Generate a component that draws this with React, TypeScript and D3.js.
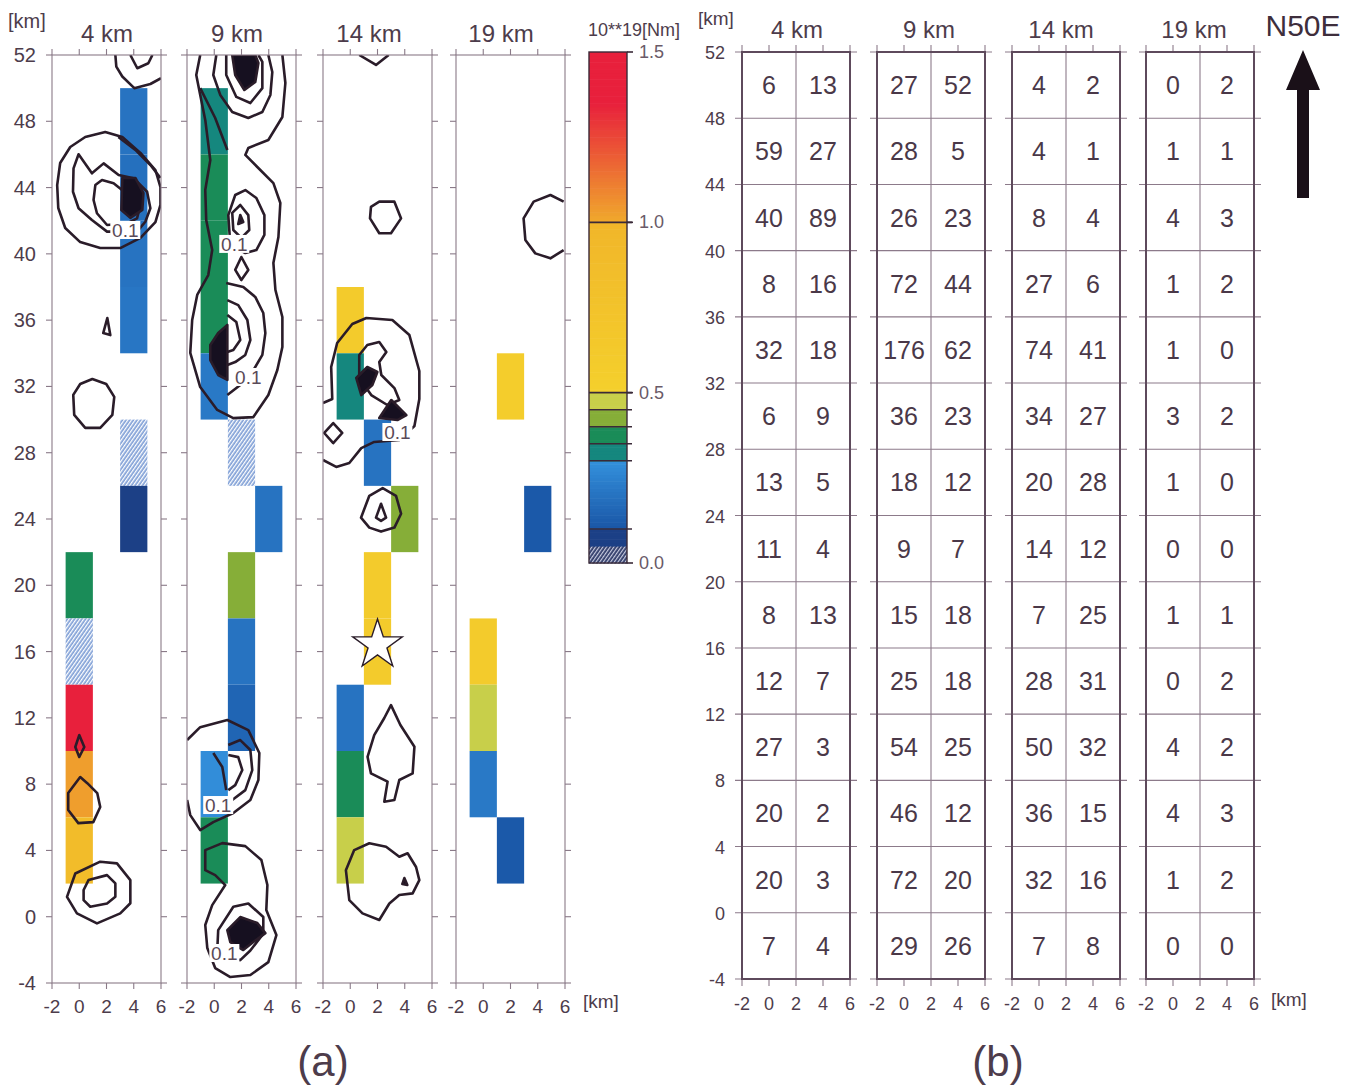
import React, { useEffect, useRef } from "react";
import * as d3 from "d3";

// ---- shared ticks / labels ----
const depthLabels = ["4 km", "9 km", "14 km", "19 km"];
const yTickValues = [52, 48, 44, 40, 36, 32, 28, 24, 20, 16, 12, 8, 4, 0, -4];
const xTickValues = [-2, 0, 2, 4, 6];
const colorTicks = [0, 0.5, 1.0, 1.5];
const colorBreaks = [0.1, 0.3, 0.35, 0.4, 0.45, 0.5, 1.0];

// ---- (a) moment release per 2 x 4 km cell: [left km, top km, 10**19 Nm] ----
const cells4 = [
  [3, 50, 0.2], [3, 46, 0.19], [3, 42, 0.2], [3, 38, 0.21], [3, 30, 0.03], [3, 26, 0.08],
  [-1, 22, 0.37], [-1, 18, 0.03], [-1, 14, 1.45], [-1, 10, 1.03], [-1, 6, 0.88],
];
const cells9 = [
  [-1, 50, 0.33], [-1, 46, 0.36], [-1, 42, 0.37], [-1, 38, 0.37], [-1, 34, 0.22],
  [1, 30, 0.03], [3, 26, 0.2], [1, 22, 0.42], [1, 18, 0.2], [1, 14, 0.15],
  [-1, 10, 0.29], [-1, 6, 0.37],
];
const cells14 = [
  [-1, 38, 0.6], [-1, 34, 0.33], [1, 30, 0.2], [3, 26, 0.42], [1, 22, 0.6], [1, 18, 0.6],
  [-1, 14, 0.2], [-1, 10, 0.39], [-1, 6, 0.47],
];
const cells19 = [
  [1, 34, 0.55], [3, 26, 0.11], [-1, 18, 0.6], [-1, 14, 0.47], [-1, 10, 0.22], [1, 6, 0.11],
];

// ---- (a) contour lines, km coordinates ----
const c4Top = [[2.65, 52], [2.72, 51.3], [3.16, 50.7], [4.04, 50.0], [5.22, 50.25], [6.0, 50.6]];
const c4TopIn = [[3.75, 52], [4.26, 51.2], [5.07, 51.5], [5.37, 52]];
const c4Outer = [[-1.62, 44.15], [-1.4, 45.48], [-0.66, 46.45], [0.44, 47.05], [1.91, 47.35], [3.16, 47.05], [4.49, 46.09], [5.59, 45.06], [5.96, 44.03], [5.96, 42.95], [5.59, 41.92], [4.49, 40.96], [3.01, 40.35], [1.54, 40.35], [0.07, 40.71], [-1.03, 41.56], [-1.54, 42.77]];
const c4Mid = [[2.04, 41.34], [0.93, 42.04], [-0.05, 42.75], [-0.46, 43.75], [-0.42, 45.16], [-0.05, 46.01], [0.93, 44.86], [1.79, 45.46], [2.89, 44.76], [3.99, 44.56], [4.98, 43.75], [5.22, 42.75], [4.85, 41.94], [4.24, 41.34]];
const c4In = [[2.04, 41.74], [1.3, 42.45], [1.05, 43.25], [1.18, 44.15], [1.67, 44.46], [2.52, 44.26], [3.14, 43.85], [3.99, 43.65], [4.49, 42.95], [4.24, 42.14], [3.51, 41.84]];
const c4Line = [[2.87, 47.05], [4.12, 46.27], [5.22, 45.36], [5.96, 44.58]];
const c4Blob = [[3.16, 44.58], [4.12, 44.58], [4.71, 43.67], [4.63, 42.65], [3.75, 42.17], [3.09, 42.65]];
const c4Tri = [[2.06, 36.13], [1.76, 35.22], [2.28, 35.1]];
const c4Circle = [[0.96, 32.45], [1.98, 32.15], [2.57, 31.37], [2.43, 30.28], [1.54, 29.5], [0.44, 29.5], [-0.37, 30.28], [-0.44, 31.49], [0.07, 32.15]];
const c4Drop = [[0, 10.96], [-0.29, 10.24], [0, 9.64], [0.37, 10.24]];
const c4Oval = [[0.07, 8.43], [-0.81, 7.46], [-0.81, 6.44], [-0.07, 5.65], [1.03, 5.71], [1.54, 6.62], [1.32, 7.46], [0.59, 8.06]];
const c4BotOut = [[-0.9, 1.2], [-0.29, 2.61], [1.54, 3.32], [2.77, 3.22], [3.75, 2.21], [3.75, 0.81], [3.01, 0.2], [1.3, -0.4], [-0.17, 0.2]];
const c4BotIn = [[0.32, 1.61], [0.68, 2.21], [2.04, 2.51], [2.65, 2.01], [2.65, 1.2], [2.04, 0.8], [0.81, 0.6], [0.32, 1.0]];

const c9A = [[5.0, 52], [5.22, 50.31], [5.0, 48.26], [3.97, 46.87], [2.5, 46.39], [2.28, 45.97], [3.16, 45.24], [4.34, 44.27], [4.85, 43.07], [4.71, 41.02], [4.34, 39.45], [4.49, 37.82], [5.0, 36.19], [5.0, 34.38], [4.63, 32.99], [3.97, 31.48], [2.87, 30.15], [1.4, 30.09], [0.22, 30.58], [-1.03, 31.96], [-1.76, 34.02], [-1.62, 36.01], [-1.25, 37.52], [-0.44, 38.72], [-0.15, 40.23], [-0.59, 42.04], [-0.66, 43.85], [-0.29, 45.66], [-0.66, 48.08], [-1.03, 49.59], [-1.32, 50.79], [-1.03, 52]];
const c9B = [[0.15, 52], [-0.07, 50.79], [0.44, 49.59], [1.32, 48.56], [2.5, 48.2], [3.53, 48.56], [4.12, 49.59], [4.26, 50.97], [3.97, 52]];
const c9C = [[0.88, 52], [0.88, 50.79], [1.62, 49.47], [2.65, 49.1], [3.53, 50.0], [3.53, 51.58], [3.24, 52]];
const c9TopBlob = [[1.32, 52], [1.54, 50.79], [2.21, 49.89], [3.01, 50.37], [3.24, 51.52], [3.01, 52]];
const c9Diag = [[-1.03, 50.0], [0.07, 48.2], [0.96, 46.27]];
const c9E1 = [[1.18, 40.53], [1.03, 42.34], [1.54, 43.55], [2.28, 43.85], [3.09, 43.37], [3.68, 42.34], [3.68, 41.14], [3.09, 40.23], [2.28, 40.05]];
const c9E2 = [[1.4, 41.44], [1.32, 42.47], [1.91, 42.95], [2.5, 42.34], [2.57, 41.44], [1.99, 40.96]];
const c9E3 = [[1.91, 42.34], [2.13, 41.92], [1.76, 41.8]];
const c9Diamond = [[1.99, 39.81], [2.5, 39.03], [1.99, 38.42], [1.54, 39.03]];
const c9U1 = [[0.88, 38.24], [2.13, 38.0], [3.01, 37.4], [3.6, 36.43], [3.75, 35.22], [3.53, 33.9], [2.79, 32.87], [1.91, 32.09], [0.96, 31.48]];
const c9U2 = [[0.96, 37.21], [1.76, 36.91], [2.43, 36.01], [2.65, 34.8], [2.28, 33.9], [1.54, 33.47], [0.96, 33.29]];
const c9U3 = [[0.96, 36.31], [1.62, 35.89], [1.91, 34.8], [1.4, 34.2], [0.96, 34.08]];
const c9MidBlob = [[0.96, 35.71], [0.96, 32.39], [0.29, 32.69], [-0.29, 33.59], [-0.29, 34.5], [0.29, 35.22]];
const c9Upper = [[-1.99, 10.66], [-1.03, 11.44], [0.96, 11.87], [2.5, 11.26], [3.31, 9.88], [3.24, 8.25], [2.65, 7.04], [1.4, 6.26], [-0.07, 5.71], [-1.03, 5.23], [-1.76, 6.13], [-1.99, 7.04]];
const c9L1 = [[1.03, 10.36], [1.91, 10.66], [2.65, 10.06], [2.79, 8.85], [2.28, 7.64], [1.32, 7.04]];
const c9L2 = [[1.03, 9.76], [1.76, 9.63], [2.06, 8.85], [1.54, 7.94], [1.03, 7.64]];
const c9L3 = [[-0.07, 9.88], [0.59, 9.03], [0.88, 7.64]];
const c9Lower = [[-0.66, 4.02], [0.59, 4.44], [2.28, 4.26], [3.46, 3.42], [3.9, 1.91], [3.82, 0.4], [4.56, -1.11], [3.97, -2.74], [2.65, -3.52], [1.18, -3.64], [0.07, -3.1], [-0.51, -1.89], [-0.66, -0.5], [-0.15, 0.7], [0.81, 1.91], [0.07, 2.51], [-0.66, 2.81]];
const c9LowerIn = [[0.29, -0.81], [1.4, 0.6], [2.5, 0.8], [3.6, -0.02], [3.6, -1.02], [2.65, -2.04], [1.91, -2.62], [0.96, -2.44], [0.22, -2.04]];
const c9LowBlob = [[0.96, -0.81], [1.91, -0.02], [3.16, -0.38], [3.75, -0.99], [2.87, -1.53], [2.13, -2.01], [1.18, -1.53]];

const c14Top = [[0.66, 52], [1.89, 51.4], [2.82, 52]];
const c14Hex = [[1.52, 42.84], [2.13, 43.15], [3.24, 43.15], [3.73, 42.14], [2.99, 41.24], [2.13, 41.24], [1.45, 42.14]];
const c14Outer = [[-2, 31.0], [-1.32, 31.24], [-1.4, 33.17], [-0.96, 34.62], [0.15, 35.77], [1.18, 36.13], [3.09, 36.01], [4.34, 35.1], [5.07, 32.93], [5.07, 31.24], [4.71, 29.61], [3.6, 28.77], [1.76, 28.65], [0.81, 28.28], [-0.07, 27.38], [-1.03, 27.14], [-2, 27.56]];
const c14Inner = [[0.66, 33.9], [1.25, 34.5], [2.13, 34.68], [2.65, 34.08], [2.13, 33.47], [2.28, 32.69], [3.24, 31.9], [3.6, 31.18], [2.72, 30.88], [1.54, 31.48], [0.66, 32.51]];
const c14Blob1 = [[0.44, 32.51], [1.25, 33.17], [1.99, 32.87], [1.62, 32.09], [0.81, 31.48]];
const c14Blob2 = [[2.13, 30.09], [3.01, 31.18], [4.12, 30.27], [3.46, 29.97]];
const c14Diamond = [[-1.25, 29.79], [-0.59, 29.19], [-1.25, 28.58], [-1.91, 29.19]];
const c14Ring = [[0.79, 24.08], [1.4, 25.4], [2.38, 25.87], [3.36, 25.4], [3.73, 24.32], [3.24, 23.48], [2.26, 23.24], [1.4, 23.48]];
const c14RingIn = [[2.26, 24.92], [2.63, 24.08], [2.26, 23.89], [1.89, 24.08]];
const c14Pear = [[2.99, 12.77], [3.68, 11.57], [4.71, 10.26], [4.58, 8.65], [3.6, 8.25], [3.24, 7.04], [2.5, 6.94], [2.74, 8.15], [1.52, 8.65], [1.27, 9.65], [1.76, 10.96], [2.5, 11.99]];
const c14Bottom = [[-0.32, 2.81], [0.29, 4.02], [1.4, 4.43], [2.63, 4.22], [3.6, 3.62], [4.21, 3.83], [4.83, 3.0], [5.07, 2.21], [4.58, 1.41], [3.6, 1.31], [2.87, 0.8], [2.13, -0.2], [0.9, 0.2], [-0.07, 1.0]];
const c14Dot = [[3.97, 2.33], [4.19, 1.91], [3.82, 1.97]];

const c19C = [[5.9, 43.15], [4.93, 43.55], [3.7, 43.15], [2.96, 42.14], [3.09, 40.84], [3.82, 40.03], [4.93, 39.73], [5.9, 40.23]];

// "0.1" contour labels [km x, km y]
const labels4 = [[3.38, 41.44]];
const labels9 = [[1.47, 40.6], [2.5, 32.57], [0.29, 6.74], [0.74, -2.19]];
const labels14 = [[3.46, 29.25]];
const labels19: number[][] = [];

// mainshock epicenter [km x, km y]
const epicenter = [2.0, 16.4];

// ---- (b) aftershock counts, rows from 52 km down, columns x=-2..2 and 2..6 ----
const counts4 = [[6, 13], [59, 27], [40, 89], [8, 16], [32, 18], [6, 9], [13, 5], [11, 4], [8, 13], [12, 7], [27, 3], [20, 2], [20, 3], [7, 4]];
const counts9 = [[27, 52], [28, 5], [26, 23], [72, 44], [176, 62], [36, 23], [18, 12], [9, 7], [15, 18], [25, 18], [54, 25], [46, 12], [72, 20], [29, 26]];
const counts14 = [[4, 2], [4, 1], [8, 4], [27, 6], [74, 41], [34, 27], [20, 28], [14, 12], [7, 25], [28, 31], [50, 32], [36, 15], [32, 16], [7, 8]];
const counts19 = [[0, 2], [1, 1], [4, 3], [1, 2], [1, 0], [3, 2], [1, 0], [0, 0], [1, 1], [0, 2], [4, 2], [4, 3], [1, 2], [0, 0]];

const FONT = "'Liberation Sans', Arial, Helvetica, sans-serif";
const TEXT = "#4d3c4b";
const AXIS = "#8a7a88";
const INK = "#2a1c29";

/** Colour of a moment value, following the colour bar. */
function colorOf(v: number, bar = false): string {
  if (v < 0.05) return bar ? "url(#hatchDark)" : "url(#hatchLight)";
  if (v < 0.1) return "#1c4086";
  if (v < 0.3) return d3.interpolateRgb("#1a56a6", "#3390dc")((v - 0.1) / 0.2);
  if (v < 0.35) return "#15877e";
  if (v < 0.4) return "#1a8c58";
  if (v < 0.45) return "#86ae38";
  if (v < 0.5) return "#c8cf4a";
  if (v < 1.0) return d3.interpolateRgb("#f4d02c", "#f1b62a")((v - 0.5) / 0.5);
  return d3.interpolateRgb("#f0aa2c", "#e8203c")(Math.min(1, (v - 1) / 0.35));
}

function App() {
  const ref = useRef<SVGSVGElement | null>(null);

  useEffect(() => {
    const svg = d3.select(ref.current);
    svg.selectAll("*").remove();
    const defs = svg.append("defs");

    // hatch patterns for the lowest class
    const hl = defs.append("pattern").attr("id", "hatchLight").attr("patternUnits", "userSpaceOnUse")
      .attr("width", 3).attr("height", 3).attr("patternTransform", "rotate(35)");
    hl.append("rect").attr("width", 3).attr("height", 3).attr("fill", "#7f9fd6");
    hl.append("rect").attr("width", 1.3).attr("height", 3).attr("fill", "#ffffff");
    const hd = defs.append("pattern").attr("id", "hatchDark").attr("patternUnits", "userSpaceOnUse")
      .attr("width", 3).attr("height", 3).attr("patternTransform", "rotate(35)");
    hd.append("rect").attr("width", 3).attr("height", 3).attr("fill", "#2e3a68");
    hd.append("rect").attr("width", 1.2).attr("height", 3).attr("fill", "#c8cce0");

    const moment = [cells4, cells9, cells14, cells19];
    const contours = [
      [
        { p: c4Top }, { p: c4TopIn }, { p: c4Outer, closed: true }, { p: c4Mid, closed: true },
        { p: c4In, closed: true }, { p: c4Line }, { p: c4Blob, closed: true, fill: true },
        { p: c4Tri, closed: true }, { p: c4Circle, closed: true }, { p: c4Drop, closed: true },
        { p: c4Oval, closed: true }, { p: c4BotOut, closed: true }, { p: c4BotIn, closed: true },
      ],
      [
        { p: c9A }, { p: c9B }, { p: c9C }, { p: c9TopBlob, closed: true, fill: true }, { p: c9Diag },
        { p: c9E1, closed: true }, { p: c9E2, closed: true }, { p: c9E3, closed: true, fill: true },
        { p: c9Diamond, closed: true }, { p: c9U1 }, { p: c9U2 }, { p: c9U3 },
        { p: c9MidBlob, closed: true, fill: true }, { p: c9Upper }, { p: c9L1 }, { p: c9L2 }, { p: c9L3 },
        { p: c9Lower, closed: true }, { p: c9LowerIn, closed: true }, { p: c9LowBlob, closed: true, fill: true },
      ],
      [
        { p: c14Top }, { p: c14Hex, closed: true }, { p: c14Outer }, { p: c14Inner, closed: true },
        { p: c14Blob1, closed: true, fill: true }, { p: c14Blob2, closed: true, fill: true },
        { p: c14Diamond, closed: true }, { p: c14Ring, closed: true }, { p: c14RingIn, closed: true },
        { p: c14Pear, closed: true }, { p: c14Bottom, closed: true }, { p: c14Dot, closed: true, fill: true },
      ],
      [{ p: c19C }],
    ];
    const contourLabels = [labels4, labels9, labels14, labels19];

    // ================= (a) =================
    const aLeft = [52, 187, 323, 456];
    const aTitleX = [107, 237, 369, 501];
    const yA = d3.scaleLinear().domain([-4, 52]).range([983, 55]);

    svg.append("text").attr("x", 8).attr("y", 28).attr("font-size", 20).attr("fill", TEXT).text("[km]");
    svg.append("g").selectAll("text").data(yTickValues).join("text")
      .attr("x", 36).attr("y", (d) => yA(d) + 7).attr("text-anchor", "end")
      .attr("font-size", 20).attr("fill", TEXT).text((d) => d);

    aLeft.forEach((left, i) => {
      const x = d3.scaleLinear().domain([-2, 6]).range([left, left + 109]);
      const g = svg.append("g");
      defs.append("clipPath").attr("id", `clipA${i}`).append("rect")
        .attr("x", x(-2)).attr("y", yA(52)).attr("width", x(6) - x(-2)).attr("height", yA(-4) - yA(52));

      // cells
      g.append("g").selectAll("rect").data(moment[i]).join("rect")
        .attr("x", (d) => x(d[0])).attr("y", (d) => yA(d[1]))
        .attr("width", (d) => x(d[0] + 2) - x(d[0]))
        .attr("height", (d) => yA(d[1] - 4) - yA(d[1]))
        .attr("fill", (d) => colorOf(d[2]));

      // contours
      const cg = g.append("g").attr("clip-path", `url(#clipA${i})`);
      contours[i].forEach((c: any) => {
        const line = d3.line<number[]>().x((d) => x(d[0])).y((d) => yA(d[1]))
          .curve(c.closed ? d3.curveLinearClosed : d3.curveLinear);
        cg.append("path").attr("d", line(c.p)).attr("fill", c.fill ? "#161020" : "none")
          .attr("stroke", INK).attr("stroke-width", 2.6).attr("stroke-linejoin", "round");
      });

      // contour labels
      contourLabels[i].forEach((d) => {
        g.append("rect").attr("x", x(d[0]) - 15).attr("y", yA(d[1]) - 9).attr("width", 30).attr("height", 18).attr("fill", "#ffffff");
        g.append("text").attr("x", x(d[0])).attr("y", yA(d[1]) + 7).attr("text-anchor", "middle")
          .attr("font-size", 19).attr("fill", "#5a4a58").text("0.1");
      });

      // star at the mainshock (14 km slice)
      if (i === 2) {
        g.append("path").attr("d", d3.symbol(d3.symbolStar, 760)())
          .attr("transform", `translate(${x(epicenter[0])},${yA(epicenter[1])})`)
          .attr("fill", "#ffffff").attr("stroke", INK).attr("stroke-width", 1.4);
      }

      // frame and ticks
      const f = g.append("g").attr("stroke", AXIS).attr("stroke-width", 1.1);
      f.append("rect").attr("x", x(-2)).attr("y", yA(52)).attr("width", x(6) - x(-2))
        .attr("height", yA(-4) - yA(52)).attr("fill", "none");
      yTickValues.forEach((t) => {
        f.append("line").attr("x1", x(-2) - 6).attr("x2", x(-2)).attr("y1", yA(t)).attr("y2", yA(t));
        f.append("line").attr("x1", x(6)).attr("x2", x(6) + 6).attr("y1", yA(t)).attr("y2", yA(t));
      });
      xTickValues.forEach((t) => {
        f.append("line").attr("x1", x(t)).attr("x2", x(t)).attr("y1", yA(52) - 6).attr("y2", yA(52));
        f.append("line").attr("x1", x(t)).attr("x2", x(t)).attr("y1", yA(-4)).attr("y2", yA(-4) + 6);
      });
      g.append("g").selectAll("text").data(xTickValues).join("text")
        .attr("x", (d) => x(d)).attr("y", 1013).attr("text-anchor", "middle")
        .attr("font-size", 19).attr("fill", TEXT).text((d) => d);
      g.append("text").attr("x", aTitleX[i]).attr("y", 42).attr("text-anchor", "middle")
        .attr("font-size", 24).attr("fill", TEXT).text(depthLabels[i]);
    });
    svg.append("text").attr("x", 583).attr("y", 1008).attr("font-size", 19).attr("fill", TEXT).text("[km]");
    svg.append("text").attr("x", 323).attr("y", 1076).attr("text-anchor", "middle")
      .attr("font-size", 42).attr("fill", TEXT).text("(a)");

    // colour bar
    const c = d3.scaleLinear().domain([0, 1.5]).range([563, 52]);
    const steps = d3.range(0, 1.5, 0.01);
    const cb = svg.append("g");
    cb.selectAll("rect").data(steps).join("rect")
      .attr("x", 589).attr("width", 38)
      .attr("y", (d) => c(d + 0.01)).attr("height", (d) => c(d) - c(d + 0.01) + 0.6)
      .attr("fill", (d) => colorOf(d + 0.005, true));
    cb.append("rect").attr("x", 589).attr("y", c(1.5)).attr("width", 38).attr("height", c(0) - c(1.5))
      .attr("fill", "none").attr("stroke", "#3a2a38").attr("stroke-width", 1.4);
    colorBreaks.forEach((b) => {
      cb.append("line").attr("x1", 589).attr("x2", 632).attr("y1", c(b)).attr("y2", c(b))
        .attr("stroke", "#3a2a38").attr("stroke-width", 1.6);
    });
    colorTicks.forEach((t) => {
      cb.append("line").attr("x1", 627).attr("x2", 633).attr("y1", c(t)).attr("y2", c(t))
        .attr("stroke", "#3a2a38").attr("stroke-width", 1.6);
      cb.append("text").attr("x", 639).attr("y", c(t) + 6).attr("font-size", 18).attr("fill", "#6a5a68").text(t.toFixed(1));
    });
    cb.append("text").attr("x", 634).attr("y", 36).attr("text-anchor", "middle")
      .attr("font-size", 18).attr("fill", TEXT).text("10**19[Nm]");

    // ================= (b) =================
    const bLeft = [742, 877, 1012, 1146];
    const bTitleX = [797, 929, 1061, 1194];
    const counts = [counts4, counts9, counts14, counts19];
    const yB = d3.scaleLinear().domain([-4, 52]).range([979, 52]);

    svg.append("text").attr("x", 698).attr("y", 25).attr("font-size", 19).attr("fill", TEXT).text("[km]");
    svg.append("g").selectAll("text").data(yTickValues).join("text")
      .attr("x", 725).attr("y", (d) => yB(d) + 7).attr("text-anchor", "end")
      .attr("font-size", 18).attr("fill", TEXT).text((d) => d);

    bLeft.forEach((left, i) => {
      const x = d3.scaleLinear().domain([-2, 6]).range([left, left + 108]);
      const g = svg.append("g");
      // internal grid
      const grid = g.append("g").attr("stroke", "#8c7a8a").attr("stroke-width", 1.1);
      yTickValues.forEach((t) => {
        grid.append("line").attr("x1", x(-2) - 7).attr("x2", x(6) + 7).attr("y1", yB(t)).attr("y2", yB(t));
      });
      grid.append("line").attr("x1", x(2)).attr("x2", x(2)).attr("y1", yB(52)).attr("y2", yB(-4));
      xTickValues.forEach((t) => {
        grid.append("line").attr("x1", x(t)).attr("x2", x(t)).attr("y1", yB(52) - 7).attr("y2", yB(52));
        grid.append("line").attr("x1", x(t)).attr("x2", x(t)).attr("y1", yB(-4)).attr("y2", yB(-4) + 7);
      });
      g.append("rect").attr("x", x(-2)).attr("y", yB(52)).attr("width", x(6) - x(-2))
        .attr("height", yB(-4) - yB(52)).attr("fill", "none").attr("stroke", "#5e4a5c").attr("stroke-width", 2);

      // counts
      counts[i].forEach((row, r) => {
        const yc = yB(52 - 4 * r - 2);
        row.forEach((n, k) => {
          g.append("text").attr("x", x(k === 0 ? 0 : 4)).attr("y", yc + 9).attr("text-anchor", "middle")
            .attr("font-size", 25).attr("fill", "#4a3848").text(n);
        });
      });

      g.append("g").selectAll("text").data(xTickValues).join("text")
        .attr("x", (d) => x(d)).attr("y", 1010).attr("text-anchor", "middle")
        .attr("font-size", 18).attr("fill", TEXT).text((d) => d);
      g.append("text").attr("x", bTitleX[i]).attr("y", 38).attr("text-anchor", "middle")
        .attr("font-size", 24).attr("fill", TEXT).text(depthLabels[i]);
    });
    svg.append("text").attr("x", 1271).attr("y", 1006).attr("font-size", 19).attr("fill", TEXT).text("[km]");
    svg.append("text").attr("x", 998).attr("y", 1076).attr("text-anchor", "middle")
      .attr("font-size", 42).attr("fill", TEXT).text("(b)");

    // direction arrow
    svg.append("text").attr("x", 1303).attr("y", 36).attr("text-anchor", "middle")
      .attr("font-size", 30).attr("fill", "#3e2e3c").text("N50E");
    svg.append("path")
      .attr("d", "M1303,50 L1320,90 L1309,90 L1309,198 L1297,198 L1297,90 L1286,90 Z")
      .attr("fill", "#1a1018");
  }, []);

  return (
    <svg
      ref={ref}
      width={1363}
      height={1089}
      style={{ position: "absolute", left: 0, top: 0, background: "#ffffff", fontFamily: FONT }}
    />
  );
}

export default App;
